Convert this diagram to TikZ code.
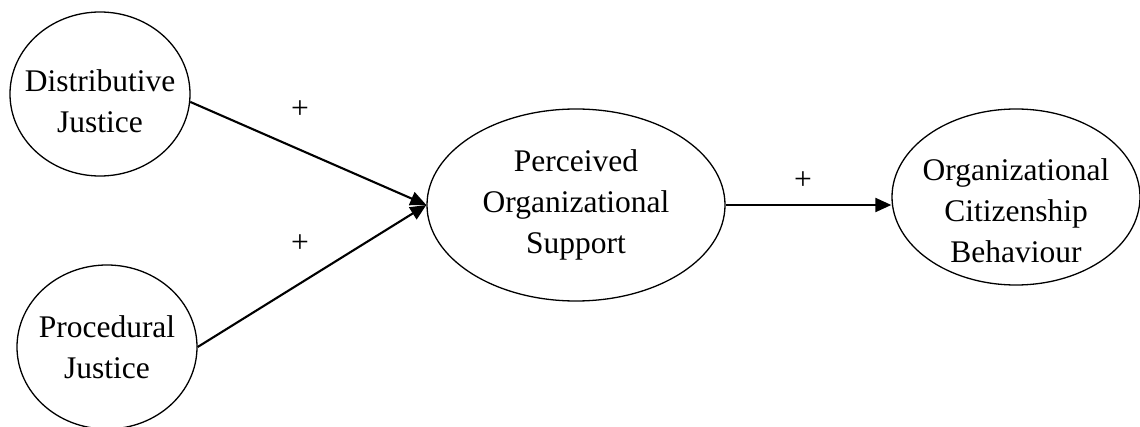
\documentclass[tikz,border=0pt]{standalone}
\usepackage{fontspec}
\setmainfont{Liberation Serif}
\usetikzlibrary{shapes.geometric,arrows.meta}
\tikzset{
	construct/.style={draw,ellipse,line width=1.3pt,inner sep=0pt},
	inside/.style={align=center,font=\fontsize{31.5}{41}\selectfont},
	path arrow/.style={line width=2.1pt,-{Triangle[length=16pt,width=14pt]}},
	sign/.style={font=\fontsize{31.5}{41}\selectfont}
}
\begin{document}
\begin{tikzpicture}[x=1pt,y=1pt]
			\useasboundingbox (0,0) rectangle (1140,426);
			\node[construct,minimum width=180,minimum height=164,label={[inside,yshift=-7]center:Distributive\\Justice}] (dj) at (100,332) {};
			\node[construct,minimum width=180,minimum height=164,label={[inside]center:Procedural\\Justice}] (pj) at (107,79) {};
			\node[construct,minimum width=298,minimum height=192,label={[inside]center:Perceived\\Organizational\\Support}] (pos) at (576,221) {};
			\node[construct,minimum width=248,minimum height=176,label={[inside,yshift=-14]center:Organizational\\Citizenship\\Behaviour}] (ocb) at (1016,229) {};
			\draw[path arrow] (dj.-5) -- (pos.west);
			\draw[path arrow] (pj.east) -- (pos.west);
			\draw[path arrow] (pos.east) -- (pos.east -| ocb.west);
			\node[sign] (dplus) at (300,316) {+};
			\node[sign] (pplus) at (300,182) {+};
			\node[sign] (oplus) at (803,245) {+};
		\end{tikzpicture}
\end{document}
